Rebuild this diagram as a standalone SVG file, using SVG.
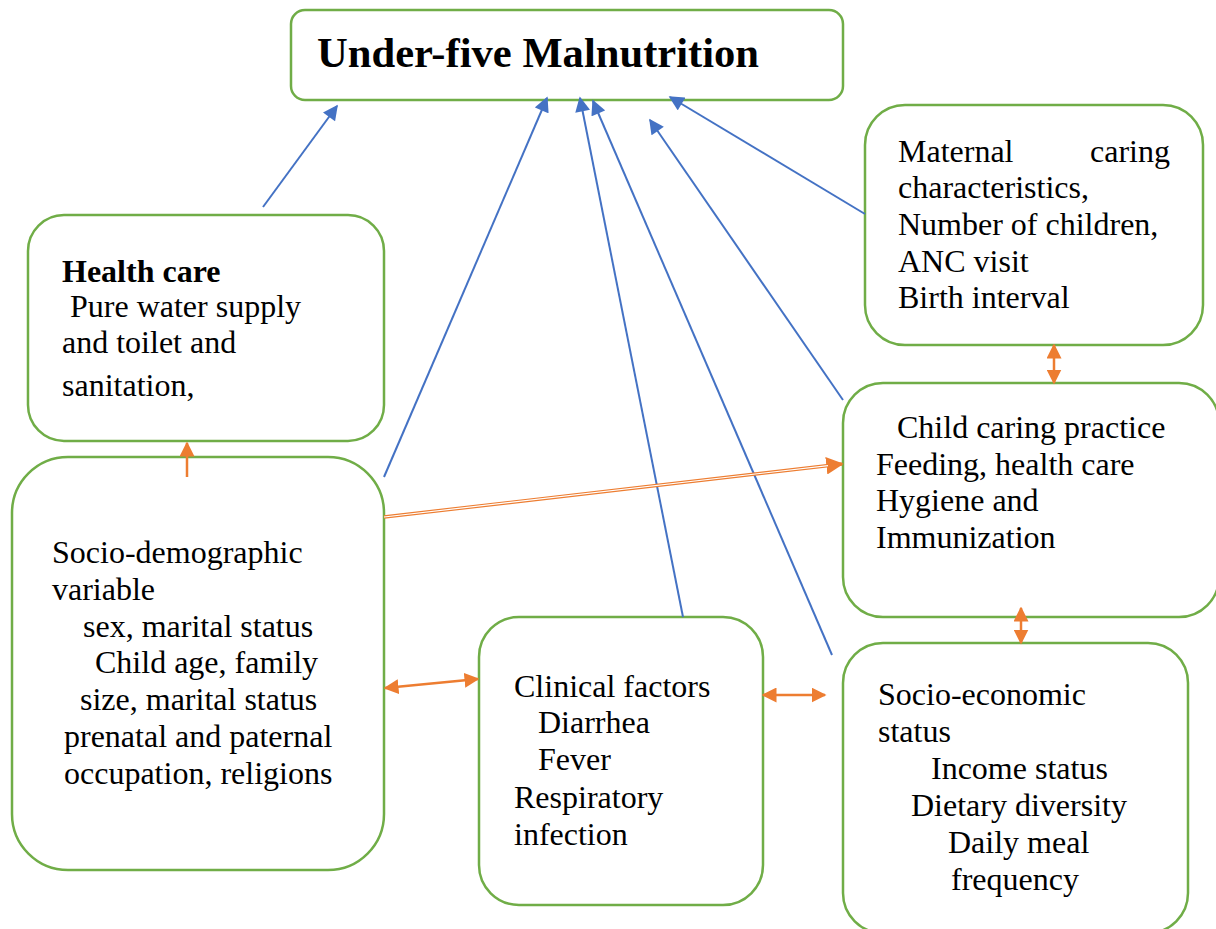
<svg xmlns="http://www.w3.org/2000/svg" width="1216" height="929" viewBox="0 0 1216 929">
<defs>
<style>
.box{fill:#fff;stroke:#70AD47;stroke-width:2.5}
.t{font-family:"Liberation Serif","Times New Roman","DejaVu Serif",serif;font-size:32px;fill:#000}
.b{font-weight:bold}
.ttl{font-size:42.6px;font-weight:bold}
.blue{stroke:#4472C4;stroke-width:2;fill:none}
.or{stroke:#ED7D31;stroke-width:2.5;fill:none}
</style>
<marker id="ab" viewBox="0 0 10 10" refX="9" refY="5" markerWidth="8" markerHeight="7.5" orient="auto" markerUnits="strokeWidth"><path d="M0,0 L10,5 L0,10 z" fill="#4472C4"/></marker>
<marker id="ao" viewBox="0 0 10 10" refX="9" refY="5" markerWidth="6" markerHeight="6" orient="auto-start-reverse" markerUnits="strokeWidth"><path d="M0,0 L10,5 L0,10 z" fill="#ED7D31"/></marker>
<marker id="ao2" viewBox="0 0 10 10" refX="9" refY="5" markerWidth="5" markerHeight="5" orient="auto" markerUnits="strokeWidth"><path d="M0,0 L10,5 L0,10 z" fill="#ED7D31"/></marker>
</defs>
<rect width="1216" height="929" fill="#fff"/>
<g id="title"><rect class="box" x="291" y="10" width="552" height="90" rx="14"/>
<text class="t ttl" x="317" y="67">Under-five Malnutrition</text></g>
<g id="health"><rect class="box" x="28" y="215" width="356" height="226" rx="36"/>
<text class="t" x="62" y="282"><tspan class="b">Health care</tspan><tspan x="62" y="317"> Pure water supply</tspan><tspan x="62" y="353">and toilet and</tspan><tspan x="62" y="396">sanitation,</tspan></text></g>
<g id="maternal"><rect class="box" x="865" y="105" width="338" height="240" rx="40"/>
<text class="t" y="162"><tspan x="898">Maternal</tspan><tspan x="1170" text-anchor="end">caring</tspan><tspan x="898" y="198">characteristics,</tspan><tspan x="898" y="235">Number of children,</tspan><tspan x="898" y="272">ANC visit</tspan><tspan x="898" y="308">Birth interval</tspan></text></g>
<g id="child"><rect class="box" x="843" y="383" width="376" height="234" rx="40"/>
<text class="t" y="438"><tspan x="897">Child caring practice</tspan><tspan x="876" y="475">Feeding, health care</tspan><tspan x="876" y="511">Hygiene and</tspan><tspan x="876" y="548">Immunization</tspan></text></g>
<g id="sociodemo"><rect class="box" x="12" y="457" width="372" height="413" rx="56"/>
<text class="t" y="563"><tspan x="52">Socio-demographic</tspan><tspan x="52" y="600">variable</tspan><tspan x="83" y="637">sex, marital status</tspan><tspan x="95" y="673">Child age, family</tspan><tspan x="80" y="710">size, marital status</tspan><tspan x="64" y="747">prenatal and paternal</tspan><tspan x="64" y="784">occupation, religions</tspan></text></g>
<g id="clinical"><rect class="box" x="479" y="617" width="284" height="288" rx="40"/>
<text class="t" y="697"><tspan x="514">Clinical factors</tspan><tspan x="538" y="733">Diarrhea</tspan><tspan x="538" y="770">Fever</tspan><tspan x="514" y="808">Respiratory</tspan><tspan x="514" y="845">infection</tspan></text></g>
<g id="socioeco"><rect class="box" x="843" y="643" width="345" height="290" rx="40"/>
<text class="t" y="705"><tspan x="878">Socio-economic</tspan><tspan x="878" y="742">status</tspan><tspan x="931" y="779">Income status</tspan><tspan x="911" y="816">Dietary diversity</tspan><tspan x="948" y="853">Daily meal</tspan><tspan x="951" y="890">frequency</tspan></text></g>
<g id="connectors">
<line class="blue" x1="263" y1="207" x2="337" y2="106" marker-end="url(#ab)"/>
<line class="blue" x1="384" y1="477" x2="547" y2="98" marker-end="url(#ab)"/>
<line class="blue" x1="683" y1="617" x2="580" y2="98" marker-end="url(#ab)"/>
<line class="blue" x1="832" y1="655" x2="593" y2="101" marker-end="url(#ab)"/>
<line class="blue" x1="843" y1="400" x2="650" y2="120" marker-end="url(#ab)"/>
<line class="blue" x1="865" y1="214" x2="670" y2="97" marker-end="url(#ab)"/>
<line stroke="#ED7D31" stroke-width="3.5" x1="384" y1="517" x2="842" y2="464" marker-end="url(#ao2)"/>
<line stroke="#fff" stroke-width="1.2" x1="384" y1="517" x2="828" y2="465.6"/>
<line class="or" x1="187" y1="477" x2="187" y2="443" marker-end="url(#ao)"/>
<line class="or" x1="385" y1="688" x2="478" y2="679" marker-start="url(#ao)" marker-end="url(#ao)"/>
<line class="or" x1="763" y1="695" x2="825" y2="695" marker-start="url(#ao)" marker-end="url(#ao)"/>
<line class="or" x1="1054" y1="345" x2="1054" y2="383" marker-start="url(#ao)" marker-end="url(#ao)"/>
<line class="or" x1="1021" y1="608" x2="1021" y2="643" marker-start="url(#ao)" marker-end="url(#ao)"/>
</g>
</svg>
